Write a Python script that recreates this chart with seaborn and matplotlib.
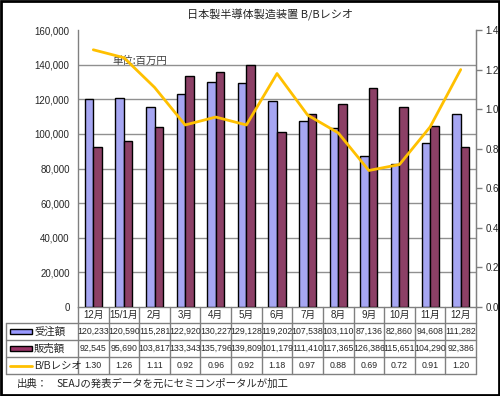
import numpy as np
import pandas as pd
import matplotlib
matplotlib.use("Agg")
import matplotlib.pyplot as plt
from matplotlib.patches import Rectangle
from matplotlib.lines import Line2D
from matplotlib.transforms import blended_transform_factory
import seaborn as sns

# data
months = ["12月", "15/1月", "2月", "3月", "4月", "5月", "6月", "7月", "8月", "9月", "10月", "11月", "12月"]
orders = [120233, 120590, 115281, 122920, 130227, 129128, 119202, 107538, 103110, 87136, 82860, 94608, 111282]
sales = [92545, 95690, 103817, 133343, 135796, 139809, 101179, 111410, 117365, 126386, 115651, 104290, 92386]
bb_ratio = [1.30, 1.26, 1.11, 0.92, 0.96, 0.92, 1.18, 0.97, 0.88, 0.69, 0.72, 0.91, 1.20]

n = len(months)
df = pd.DataFrame({
    "idx": list(range(n)) * 2,
    "value": orders + sales,
    "series": ["受注額"] * n + ["販売額"] * n,
})

sns.set_style("white")
plt.rcParams["font.family"] = ["Liberation Sans", "Noto Sans CJK JP", "DejaVu Sans"]

W, H = 500, 396
fig = plt.figure(figsize=(5, 3.96), dpi=100)

def fx(px):
    return px / W

def fy(py):
    return 1 - py / H

ax_l, ax_r, ax_t, ax_b = 78, 476, 30, 307
ax = fig.add_axes([fx(ax_l), fy(ax_b), fx(ax_r - ax_l), (ax_b - ax_t) / H])

blue, maroon, orange = "#9999FF", "#993366", "#FFC000"
sns.barplot(data=df, x="idx", y="value", hue="series", palette=[blue, maroon],
            width=0.56, gap=0, edgecolor="black", linewidth=1, legend=False, ax=ax,
            zorder=3)

ax.set_xlim(-0.5, n - 0.5)
ax.set_ylim(0, 160000)
ax.set_yticks(np.arange(0, 160001, 20000))
ax.set_yticklabels([f"{v:,}" for v in range(0, 160001, 20000)], fontsize=7)
ax.set_xticks([])
ax.set_xlabel("")
ax.set_ylabel("")
ax.tick_params(axis="y", length=0, pad=6)
for y in range(20000, 160000, 20000):
    ax.axhline(y, color="#909090", lw=1, zorder=1)
for s in ["top"]:
    ax.spines[s].set_visible(False)
for s in ["left", "right", "bottom"]:
    ax.spines[s].set_color("#808080")
    ax.spines[s].set_linewidth(1)

ax2 = ax.twinx()
sns.lineplot(x=list(range(n)), y=bb_ratio, color=orange, lw=2, ax=ax2)
ax2.set_ylim(0, 1.4)
ax2.set_yticks(np.arange(0, 1.41, 0.2))
ax2.set_yticklabels([f"{v:.1f}" for v in np.arange(0, 1.41, 0.2)], fontsize=7)
ax2.tick_params(axis="y", length=4, width=1, color="#808080", pad=3)
ax2.spines["top"].set_visible(False)
ax2.spines["right"].set_color("#808080")
ax2.spines["left"].set_visible(False)
ax2.spines["bottom"].set_visible(False)
ax2.set_xlim(-0.5, n - 0.5)

ax.text(fx(112), fy(61), "単位:百万円", transform=fig.transFigure, fontsize=7.5,
        color="#404040", va="center", ha="left", family=["Noto Sans CJK JP", "DejaVu Sans"], zorder=5)

fig.text(fx(270), fy(15), "日本製半導体製造装置 B/Bレシオ", fontsize=8, ha="center", va="center",
         family=["Noto Sans CJK JP", "DejaVu Sans"])

# data table under the chart
tr = blended_transform_factory(ax.transData, fig.transFigure)
rows = [307, 323, 340, 357, 374]
grid_c = "#808080"
for i in range(n + 1):
    fig.add_artist(Line2D([i - 0.5, i - 0.5], [fy(rows[0]), fy(rows[-1])], transform=tr,
                          color=grid_c, lw=1))
for r in rows[1:]:
    fig.add_artist(Line2D([fx(6), fx(ax_r)], [fy(r), fy(r)], transform=fig.transFigure,
                          color=grid_c, lw=1))
fig.add_artist(Line2D([fx(6), fx(6)], [fy(rows[1]), fy(rows[-1])], transform=fig.transFigure,
                      color=grid_c, lw=1))

centers = [(rows[k] + rows[k + 1]) / 2 for k in range(4)]
tfont = ["Liberation Sans", "Noto Sans CJK JP"]
for i in range(n):
    fig.text(i, fy(centers[0]), months[i], transform=tr, ha="center", va="center",
             fontsize=7, family=tfont)
    fig.text(i, fy(centers[1]), f"{orders[i]:,}", transform=tr, ha="center", va="center",
             fontsize=6.3, family=tfont)
    fig.text(i, fy(centers[2]), f"{sales[i]:,}", transform=tr, ha="center", va="center",
             fontsize=6.3, family=tfont)
    fig.text(i, fy(centers[3]), f"{bb_ratio[i]:.2f}", transform=tr, ha="center", va="center",
             fontsize=6.3, family=tfont)

# legend keys in the table header column
for k, (lab, col) in enumerate([("受注額", blue), ("販売額", maroon)]):
    cy = centers[k + 1]
    fig.add_artist(Rectangle((fx(10), fy(cy + 2.5)), fx(22), 5 / H, transform=fig.transFigure,
                             facecolor=col, edgecolor="black", lw=1))
    fig.text(fx(34), fy(cy), lab, ha="left", va="center", fontsize=7.5,
             family=["Noto Sans CJK JP", "DejaVu Sans"])
fig.add_artist(Line2D([fx(10), fx(32)], [fy(centers[3]), fy(centers[3])], transform=fig.transFigure,
                      color=orange, lw=2))
fig.text(fx(34), fy(centers[3]), "B/Bレシオ", ha="left", va="center", fontsize=7.5,
         family=["Liberation Sans", "Noto Sans CJK JP"])

fig.text(fx(17), fy(384), "出典：", ha="left", va="center", fontsize=7.5,
         family=["Noto Sans CJK JP", "DejaVu Sans"])
fig.text(fx(56), fy(384), "SEAJの発表データを元にセミコンポータルが加工", ha="left", va="center",
         fontsize=7.5, family=["Noto Sans CJK JP", "DejaVu Sans"])

# outer frame
fig.add_artist(Rectangle((0.002, 0.0025), 0.996, 0.995, transform=fig.transFigure,
                         facecolor="none", edgecolor="black", lw=2))

fig.savefig("out.png", dpi=100)
